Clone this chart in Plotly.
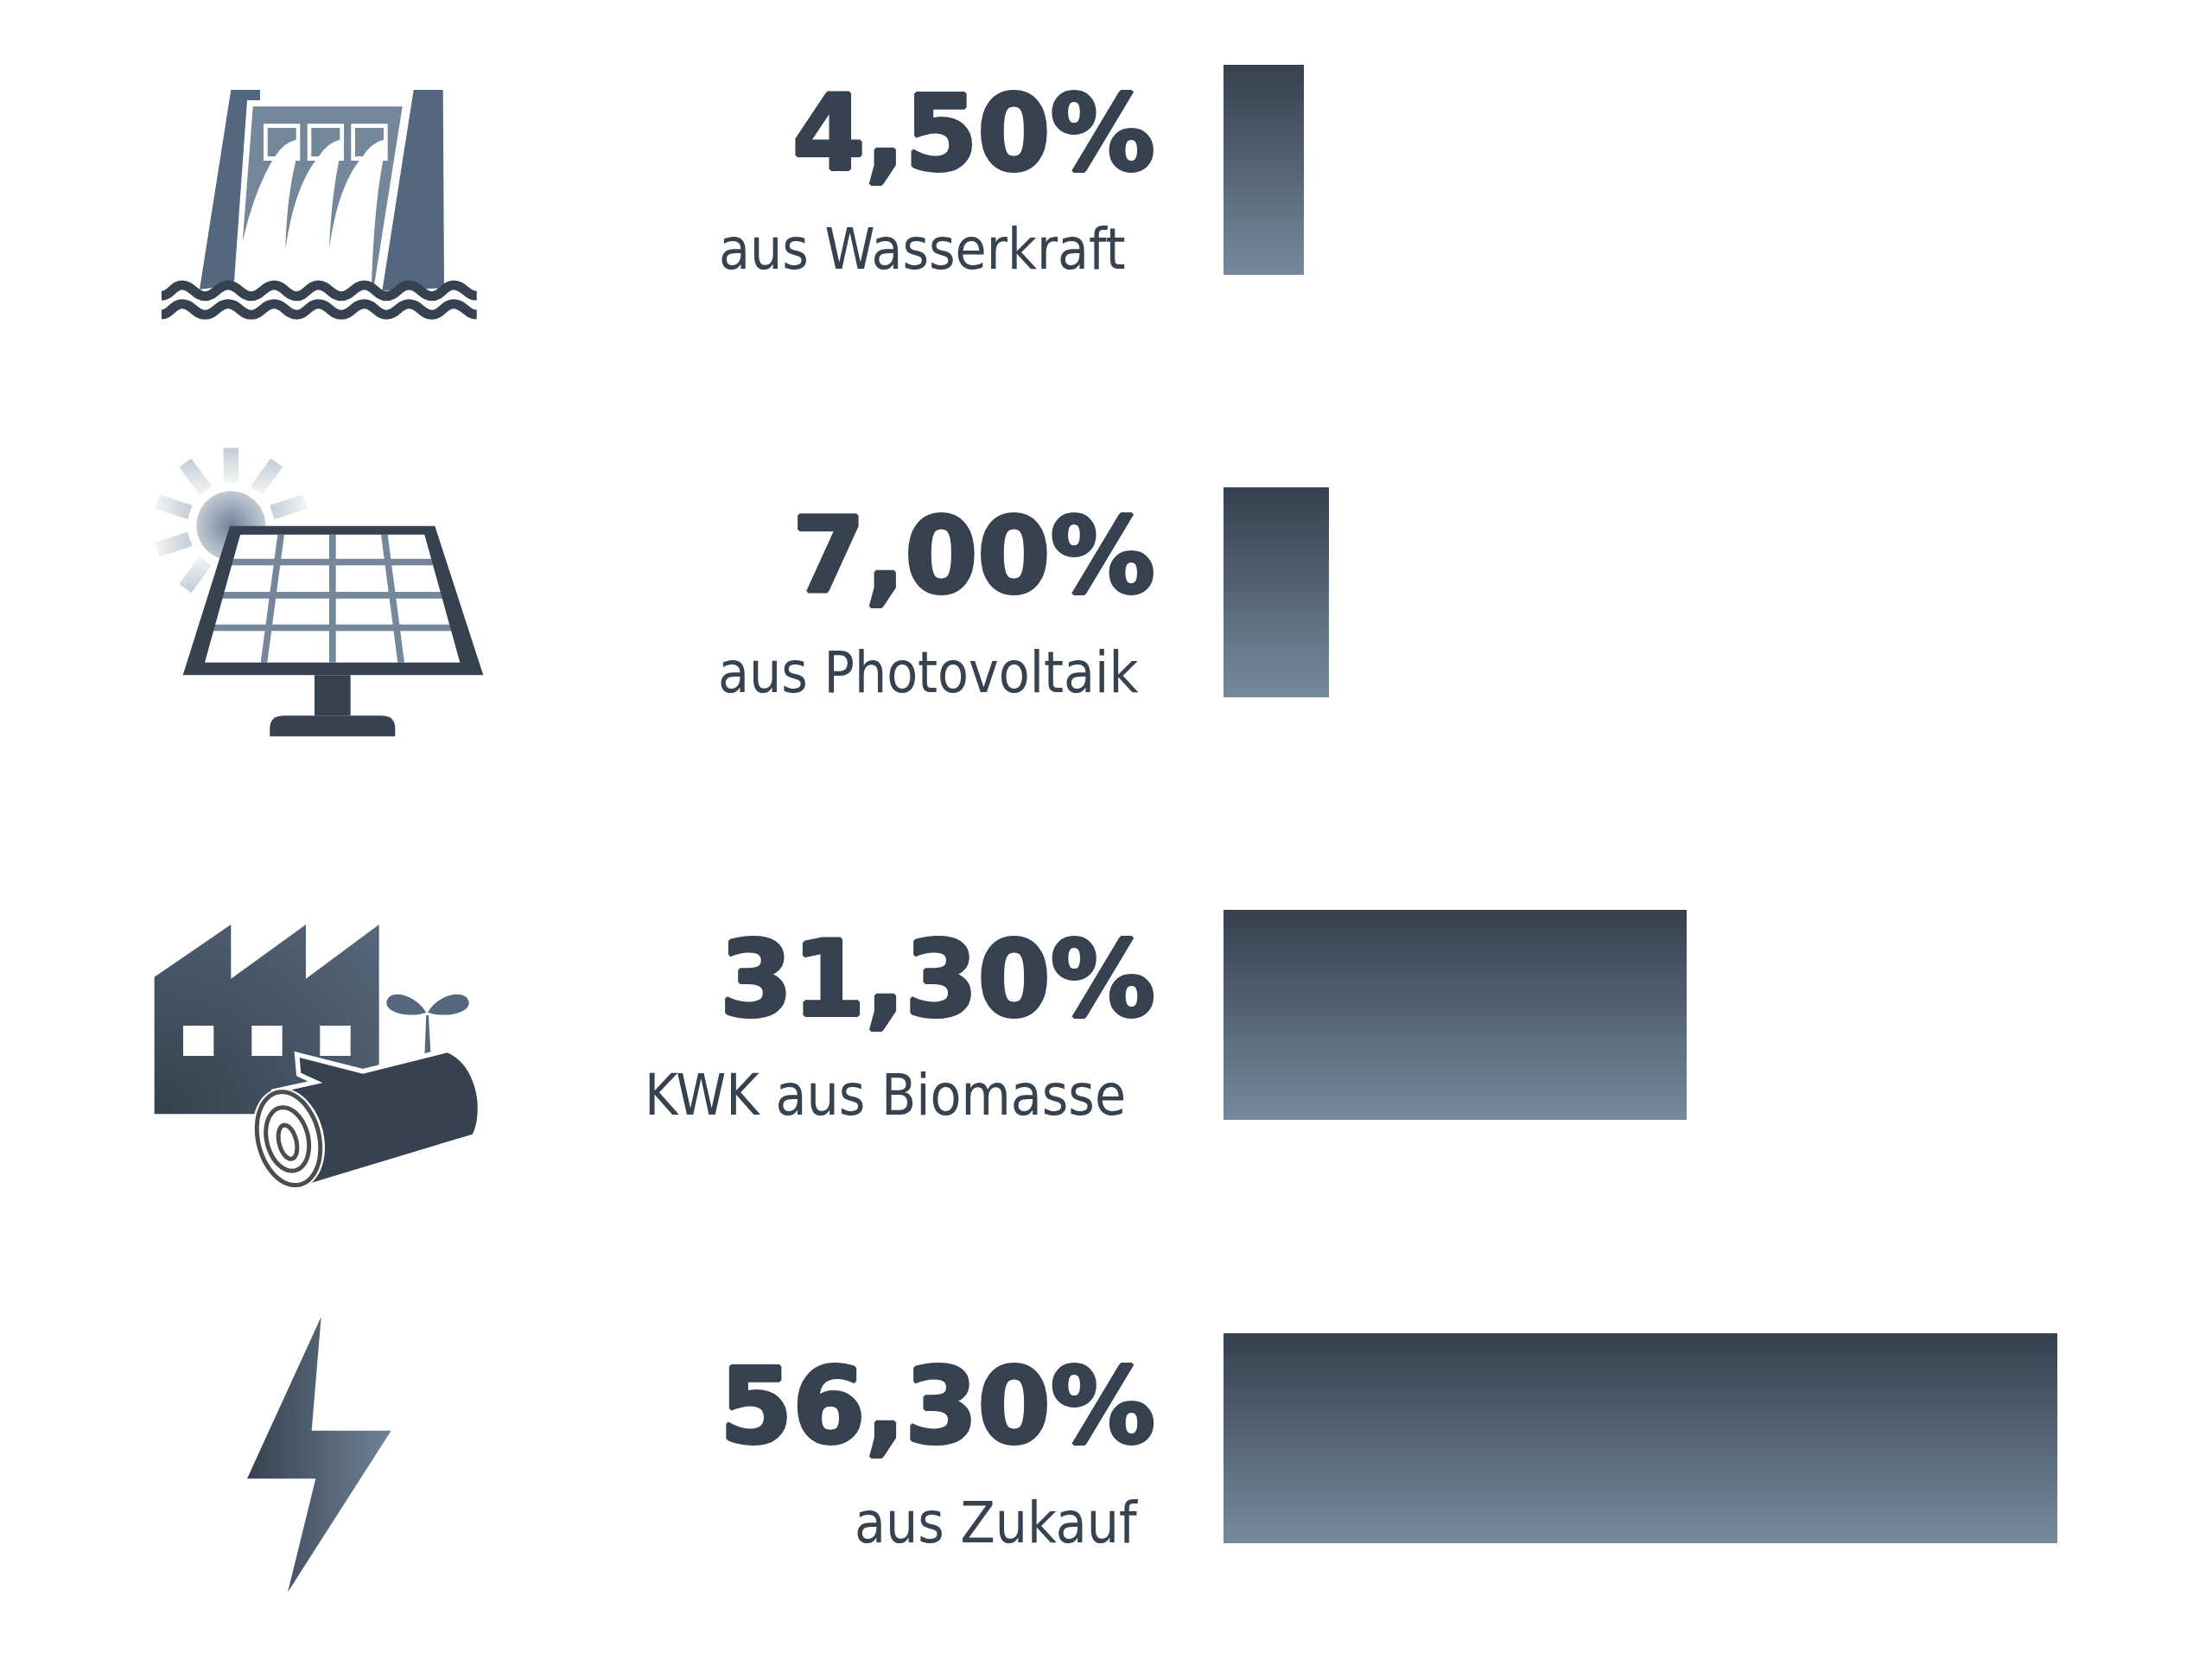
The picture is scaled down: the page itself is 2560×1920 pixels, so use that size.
import math
import re
import plotly.graph_objects as go

# Datos
filas = [0, 1, 2, 3]
etiquetas_valor = ["4,50%", "7,00%", "31,30%", "56,30%"]
etiquetas_fuente = ["aus Wasserkraft", "aus Photovoltaik", "KWK aus Biomasse", "aus Zukauf"]
# Longitud dibujada de cada barra (la primera es mas larga que su etiqueta en el original)
longitud_barras = [5.45, 7.1, 31.3, 56.3]

# Colores
OSCURO = "#36424f"
MEDIO = "#55677e"
CLARO = "#75889b"
GRIS_ANILLO = "#4d4d4d"

ANCHO, ALTO = 2560, 1920
X0_BARRA = 1416
PX_POR_UNIDAD = 17.14
Y_FILA0 = 196.5
PASO_FILA = 489.2
ALTO_BARRA = 243
N_BANDAS = 24

# La sombra engorda la negrita para acercarla al trazo del original
sombra = ",".join("%dpx %dpx 0 %s" % (dx, dy, OSCURO)
                  for dx, dy in [(2, 0), (-2, 0), (0, 2), (0, -2), (1, 1), (-1, 1), (1, -1), (-1, -1)])
fuente_valor = dict(family="DejaVu Sans", size=121, color=OSCURO, weight=700, shadow=sombra)
fuente_texto = dict(family="DejaVu Sans Condensed, DejaVu Sans", size=65.3, color=OSCURO)
derecha_valor = 1339
derecha_texto = [1305, 1319, 1305, 1319]
centro_valor = [154, 643, 1133, 1627]
centro_texto = [288, 778, 1267, 1762]


def mezcla(c1, c2, t):
    a = [int(c1[i:i + 2], 16) for i in (1, 3, 5)]
    b = [int(c2[i:i + 2], 16) for i in (1, 3, 5)]
    return "rgb(%d,%d,%d)" % tuple(round(p + (q - p) * t) for p, q in zip(a, b))


def ruta(ox, oy, texto):
    """Pasa una ruta SVG medida en un recorte ampliado x3 a pixeles de la pagina"""
    salida = []
    es_x = True
    for tok in re.findall(r"[A-Za-z]|-?[\d.]+", texto):
        if tok.isalpha():
            salida.append(tok)
            es_x = True
        else:
            valor = float(tok) / 3 + (ox if es_x else oy)
            salida.append("%.1f" % valor)
            es_x = not es_x
    return " ".join(salida)


def puntos(ox, oy, lista):
    return [ox + p[0] / 3 for p in lista], [oy + p[1] / 3 for p in lista]


def elipse(ox, oy, cx, cy, rx, ry, giro):
    g = math.radians(giro)
    pts = []
    for k in range(60):
        t = 2 * math.pi * k / 60
        x = rx * math.cos(t)
        y = ry * math.sin(t)
        pts.append("%s %.1f %.1f" % ("M" if k == 0 else "L",
                                     x * math.cos(g) - y * math.sin(g) + cx,
                                     x * math.sin(g) + y * math.cos(g) + cy))
    return ruta(ox, oy, " ".join(pts) + " Z")


fig = go.Figure()

# Barras: cada banda del degradado es una traza de barras sobre los mismos valores
for k in range(N_BANDAS):
    desplazamiento = ((k + 0.5) / N_BANDAS - 0.5) * ALTO_BARRA / PASO_FILA
    fig.add_trace(go.Bar(
        x=longitud_barras,
        y=[f + desplazamiento for f in filas],
        orientation="h",
        width=ALTO_BARRA / PASO_FILA / N_BANDAS,
        marker=dict(color=mezcla(OSCURO, CLARO, k / (N_BANDAS - 1)), line=dict(width=0)),
        showlegend=False,
        hoverinfo="skip"
    ))


def poligono(ox, oy, lista, colores, tipo):
    xs, ys = puntos(ox, oy, lista)
    fig.add_trace(go.Scatter(
        x=xs + xs[:1], y=ys + ys[:1],
        xaxis="x2", yaxis="y2",
        mode="lines", line=dict(width=0),
        fill="toself",
        fillgradient=dict(type=tipo, colorscale=colores),
        showlegend=False, hoverinfo="skip"
    ))


# Rayos del sol
SOL_X, SOL_Y, SOL_OX, SOL_OY = 322, 295, 160, 510
for ang in [0, 36, 72, -36, -72, -108, -144]:
    a = math.radians(ang)
    ux, uy = math.sin(a), -math.cos(a)
    vx, vy = -uy, ux
    esquinas = []
    for r, w in [(150, -26), (150, 26), (270, 26), (270, -26)]:
        esquinas.append((SOL_X + ux * r + vx * w, SOL_Y + uy * r + vy * w))
    horizontal = abs(ux) > abs(uy)
    if horizontal:
        escala = [[0, "#f4f6f7"], [1, "#c3ccd5"]] if ux < 0 else [[0, "#c3ccd5"], [1, "#f4f6f7"]]
    else:
        escala = [[0, "#c3ccd5"], [1, "#f4f6f7"]] if uy > 0 else [[0, "#f4f6f7"], [1, "#c3ccd5"]]
    poligono(SOL_OX, SOL_OY, esquinas, escala, "horizontal" if horizontal else "vertical")

# Disco del sol
disco = [(SOL_X + 120 * math.cos(2 * math.pi * k / 72), SOL_Y + 120 * math.sin(2 * math.pi * k / 72))
         for k in range(72)]
poligono(SOL_OX, SOL_OY, disco, [[0, "#70839a"], [1, "#c0cad3"]], "radial")

# Fabrica: las dos puntas sin area desplazan el centro del degradado radial a la esquina inferior izquierda
poligono(160, 1050,
         [(56, 242), (322, 60), (322, 248), (582, 60), (582, 248), (836, 60), (1200, -300), (836, 60),
          (836, 718), (56, 718), (-1000, 1700), (56, 718)],
         [[0, OSCURO], [1, "#586a7d"]], "radial")

# Rayo
poligono(240, 1510,
         [(395, 42), (362, 437), (638, 437), (279, 998), (376, 604), (138, 604)],
         [[0, OSCURO], [1, "#6f8296"]], "horizontal")

formas = []


def forma(path, relleno=None, linea=None, grosor=0):
    formas.append(dict(
        type="path", xref="x2", yref="y2", path=path,
        fillcolor=relleno if relleno else "rgba(0,0,0,0)",
        line=dict(color=linea if linea else "rgba(0,0,0,0)", width=grosor)
    ))


# Presa
D = (160, 70)
forma(ruta(*D, "M 322 102 L 423 102 L 423 138 L 378 138 L 332 780 L 213 795 Z"), MEDIO)
forma(ruta(*D, "M 956 102 L 1058 102 L 1062 790 L 847 800 Z"), MEDIO)
forma(ruta(*D, "M 398 160 L 917 160 L 820 775 L 810 770 Q 820 500 850 348 L 767 348 Q 690 450 663 655 "
               "Q 670 480 697 348 L 615 348 Q 540 450 511 655 Q 515 480 547 348 L 465 348 Q 400 460 362 630 Z"), CLARO)
for dx in [0, 152, 304]:
    forma(ruta(*D, "M %d 220 L %d 220 L %d 348 L %d 348 Z" % (435 + dx, 562 + dx, 562 + dx, 435 + dx)), "#ffffff")
    forma(ruta(*D, "M %d 234 L %d 234 L %d 275 Q %d 285 %d 333 L %d 333 Z"
               % (449 + dx, 548 + dx, 548 + dx, 505 + dx, 475 + dx, 449 + dx)), CLARO)
crestas = [152, 312, 472, 625, 785, 940, 1095]
valles = [232, 392, 550, 705, 862, 1020]
for dy in [0, 65]:
    nodos = [(81, 817 + dy)]
    for i, c in enumerate(crestas):
        nodos.append((c, 780 + dy))
        if i < len(valles):
            nodos.append((valles[i], 818 + dy))
    nodos.append((1175, 817 + dy))
    tramo = "M %d %d" % nodos[0]
    for (x1, y1), (x2, y2) in zip(nodos, nodos[1:]):
        m = (x2 - x1) * 0.45
        tramo += " C %.1f %d %.1f %d %d %d" % (x1 + m, y1, x2 - m, y2, x2, y2)
    forma(ruta(*D, tramo), None, OSCURO, 11)

# Panel solar
P = (160, 510)
forma(ruta(*P, "M 354 326 L 994 326 L 1117 770 L 231 770 Z"), "#ffffff")
for y1, y2 in [(410, 433), (525, 548), (638, 661)]:
    # Las franjas entran un poco bajo el marco, que se dibuja despues
    izq1, izq2 = 354 - (y1 - 326) * 0.277 - 6, 354 - (y2 - 326) * 0.277 - 6
    der1, der2 = 994 + (y1 - 326) * 0.277 + 6, 994 + (y2 - 326) * 0.277 + 6
    forma(ruta(*P, "M %.1f %d L %.1f %d L %.1f %d L %.1f %d Z" % (izq1, y1, der1, y1, der2, y2, izq2, y2)), CLARO)
for x1, x2 in [(484, 425), (663, 663), (843, 901)]:
    forma(ruta(*P, "M %d 326 L %d 326 L %d 770 L %d 770 Z" % (x1, x1 + 23, x2 + 23, x2)), CLARO)
forma(ruta(*P, "M 318 296 L 1030 296 L 1198 814 L 155 814 Z M 354 326 L 994 326 L 1117 770 L 231 770 Z"), OSCURO)
forma(ruta(*P, "M 612 814 L 737 814 L 737 955 L 612 955 Z"), OSCURO)
forma(ruta(*P, "M 457 1027 L 457 1000 Q 457 955 505 955 L 845 955 Q 892 955 892 1000 L 892 1027 Z"), OSCURO)

# Fabrica: ventanas, brote y tronco
F = (160, 1050)
for x1 in [156, 394, 631]:
    forma(ruta(*F, "M %d 411 L %d 411 L %d 516 L %d 516 Z" % (x1, x1 + 106, x1 + 106, x1)), "#ffffff")
forma(ruta(*F, "M 1000 365 C 960 300 870 280 862 330 C 860 370 950 385 1000 365 Z"), MEDIO)
forma(ruta(*F, "M 1005 365 C 1040 300 1140 280 1148 330 C 1150 370 1060 385 1005 365 Z"), MEDIO)
forma(ruta(*F, "M 1000 375 L 1008 375 L 1017 540 L 993 540 Z"), MEDIO)
TRONCO = ("M 560 522 L 780 578 L 1072 505 C 1140 530 1180 620 1178 700 C 1178 740 1170 770 1160 788 "
          "L 590 960 L 500 800 L 480 645 L 640 610 L 565 575 Z")
forma(ruta(*F, TRONCO), "#ffffff", "#ffffff", 11)
forma(ruta(*F, TRONCO), OSCURO)
forma(elipse(*F, 522, 803, 122, 178, -14), "#ffffff")
forma(elipse(*F, 522, 803, 106, 165, -14), "#ffffff", GRIS_ANILLO, 5)
forma(elipse(*F, 518, 805, 72, 112, -14), "#ffffff", GRIS_ANILLO, 5)
forma(elipse(*F, 519, 815, 30, 60, -14), "#ffffff", GRIS_ANILLO, 5)

# Textos
textos = []
for i in filas:
    textos.append(dict(xref="x2", yref="y2", x=derecha_valor, y=centro_valor[i], text=etiquetas_valor[i],
                       xanchor="right", yanchor="middle", showarrow=False, font=fuente_valor))
    textos.append(dict(xref="x2", yref="y2", x=derecha_texto[i], y=centro_texto[i], text=etiquetas_fuente[i],
                       xanchor="right", yanchor="middle", showarrow=False, font=fuente_texto))

sin_ejes = dict(visible=False, showgrid=False, zeroline=False, fixedrange=True)
fig.update_layout(
    width=ANCHO, height=ALTO,
    margin=dict(l=0, r=0, t=0, b=0),
    paper_bgcolor="#ffffff", plot_bgcolor="#ffffff",
    barmode="overlay", bargap=0,
    xaxis=dict(range=[-X0_BARRA / PX_POR_UNIDAD, (ANCHO - X0_BARRA) / PX_POR_UNIDAD], **sin_ejes),
    yaxis=dict(range=[(ALTO - Y_FILA0) / PASO_FILA, -Y_FILA0 / PASO_FILA], **sin_ejes),
    xaxis2=dict(range=[0, ANCHO], overlaying="x", **sin_ejes),
    yaxis2=dict(range=[ALTO, 0], overlaying="y", **sin_ejes),
    shapes=formas,
    annotations=textos,
    showlegend=False
)

fig.write_html("out.html", config=dict(displayModeBar=False),
               post_script="document.body.style.margin='0';")
